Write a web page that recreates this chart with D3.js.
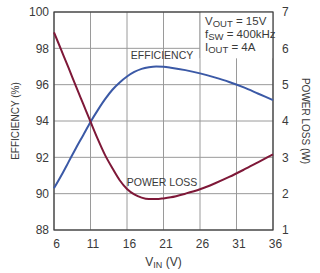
<!DOCTYPE html>
<html>
<head>
<meta charset="utf-8">
<script src="https://cdn.jsdelivr.net/npm/d3@7"></script>
<style>
    body { margin: 0; background: #fff; }
    text { font-family: "Liberation Sans Narrow", "Liberation Sans", Arial, sans-serif; fill: #3a3a3a; }
</style>
</head>
<body>
<div id="chart"></div>
<script>
var vin        = [6, 7, 8, 9, 10, 11, 12, 13, 14, 15, 16, 17, 18, 19, 20, 21, 22, 24, 26, 28, 30, 32, 34, 36];
var efficiency = [90.3, 91.0, 91.75, 92.5, 93.22, 93.95, 94.6, 95.2, 95.72, 96.12, 96.45, 96.7, 96.87, 96.96, 97.0, 96.98, 96.93, 96.8, 96.62, 96.4, 96.15, 95.85, 95.5, 95.15];
var powerLoss  = [6.44, 5.95, 5.46, 4.96, 4.47, 3.98, 3.5, 3.06, 2.7, 2.37, 2.13, 1.98, 1.89, 1.85, 1.85, 1.87, 1.9, 2.0, 2.12, 2.28, 2.46, 2.66, 2.87, 3.08];
var xTicks     = [6, 11, 16, 21, 26, 31, 36];
var effTicks   = [88, 90, 92, 94, 96, 98, 100];
var lossTicks  = [1, 2, 3, 4, 5, 6, 7];
var notes      = [["V", "OUT", " = 15V"], ["f", "SW", " = 400kHz"], ["I", "OUT", " = 4A"]];

var width = 320, height = 273,
    margins = {top: 12, bottom: 43, left: 54, right: 47};

var innerW = width - margins.left - margins.right,
    innerH = height - margins.top - margins.bottom;

/* SVG */
var svg = d3.select("#chart")
    .append("svg")
        .attr("width", width)
        .attr("height", height);

var main = svg.append("g")
    .attr("transform", "translate(" + margins.left + "," + margins.top + ")");

/* Scales */
var x = d3.scaleLinear().domain([6, 36]).range([0, innerW]);
var yEff = d3.scaleLinear().domain([88, 100]).range([innerH, 0]);
var yLoss = d3.scaleLinear().domain([1, 7]).range([innerH, 0]);

/* Grid */
main.append("g")
    .selectAll("line")
    .data(xTicks)
    .enter()
    .append("line")
        .attr("x1", function(d) { return x(d); })
        .attr("x2", function(d) { return x(d); })
        .attr("y1", 0)
        .attr("y2", innerH)
        .attr("stroke", "#9a9a9a")
        .attr("stroke-width", 1);
main.append("g")
    .selectAll("line")
    .data(effTicks)
    .enter()
    .append("line")
        .attr("x1", 0)
        .attr("x2", innerW)
        .attr("y1", function(d) { return yEff(d); })
        .attr("y2", function(d) { return yEff(d); })
        .attr("stroke", "#9a9a9a")
        .attr("stroke-width", 1);

/* Note box covers grid */
main.append("rect")
    .attr("x", x(26))
    .attr("y", 0)
    .attr("width", x(36) - x(26))
    .attr("height", yEff(97.45))
    .attr("fill", "#fff");
main.append("line")
    .attr("x1", x(26)).attr("x2", x(26))
    .attr("y1", 0).attr("y2", yEff(97.45))
    .attr("stroke", "#9a9a9a");

/* Frame */
main.append("rect")
    .attr("width", innerW)
    .attr("height", innerH)
    .attr("fill", "none")
    .attr("stroke", "#3a3a3a")
    .attr("stroke-width", 1.2);

/* Axes */
var xAxis = d3.axisBottom(x).tickValues(xTicks).tickSize(0).tickPadding(9);
var yAxisL = d3.axisLeft(yEff).tickValues(effTicks).tickSize(0).tickPadding(5);
var yAxisR = d3.axisRight(yLoss).tickValues(lossTicks).tickFormat(d3.format("d")).tickSize(0).tickPadding(9);

main.append("g")
    .attr("transform", "translate(0," + innerH + ")")
    .call(xAxis)
    .call(function(g) { g.select(".domain").remove(); })
    .selectAll("text")
        .attr("dx", "2")
        .style("font-size", "12px");
main.append("g")
    .call(yAxisL)
    .call(function(g) { g.select(".domain").remove(); })
    .selectAll("text")
        .style("font-size", "12px");
main.append("g")
    .attr("transform", "translate(" + innerW + ",0)")
    .call(yAxisR)
    .call(function(g) { g.select(".domain").remove(); })
    .selectAll("text")
        .style("font-size", "12px");

/* Lines */
var effLine = d3.line()
    .x(function(d, i) { return x(vin[i]); })
    .y(function(d) { return yEff(d); })
    .curve(d3.curveMonotoneX);
var lossLine = d3.line()
    .x(function(d, i) { return x(vin[i]); })
    .y(function(d) { return yLoss(d); })
    .curve(d3.curveMonotoneX);

main.append("path")
    .datum(efficiency)
    .attr("d", effLine)
    .attr("fill", "none")
    .attr("stroke", "#3b59a6")
    .attr("stroke-width", 2);
main.append("path")
    .datum(powerLoss)
    .attr("d", lossLine)
    .attr("fill", "none")
    .attr("stroke", "#7e1838")
    .attr("stroke-width", 2);

/* Curve labels */
main.append("text")
    .attr("x", x(20.8))
    .attr("y", yEff(97.4))
    .attr("text-anchor", "middle")
    .style("font-size", "10.5px")
    .text("EFFICIENCY");
main.append("text")
    .attr("x", x(20.8))
    .attr("y", yLoss(2.22))
    .attr("text-anchor", "middle")
    .style("font-size", "10.5px")
    .text("POWER LOSS");

/* Notes */
var note = main.append("g")
    .attr("transform", "translate(" + (x(26) + 5) + ",0)");
notes.forEach(function(n, i) {
    var t = note.append("text")
        .attr("y", 13 + i * 13)
        .style("font-size", "11.5px");
    t.append("tspan").text(n[0]);
    t.append("tspan").attr("dy", 1.5).style("font-size", "9.5px").text(n[1]);
    t.append("tspan").attr("dy", -1.5).text(n[2]);
});

/* Axis titles */
svg.append("text")
    .attr("transform", "translate(19," + (margins.top + innerH / 2) + ") rotate(-90)")
    .attr("text-anchor", "middle")
    .style("font-size", "10px")
    .text("EFFICIENCY (%)");
svg.append("text")
    .attr("transform", "translate(302," + (margins.top + innerH / 2) + ") rotate(90)")
    .attr("text-anchor", "middle")
    .style("font-size", "10px")
    .text("POWER LOSS (W)");
var xt = svg.append("text")
    .attr("x", margins.left + x(21))
    .attr("y", 266)
    .attr("text-anchor", "middle")
    .style("font-size", "12px");
xt.append("tspan").text("V");
xt.append("tspan").attr("dy", 2).style("font-size", "9px").text("IN");
xt.append("tspan").attr("dy", -2).text(" (V)");
</script>
</body>
</html>
